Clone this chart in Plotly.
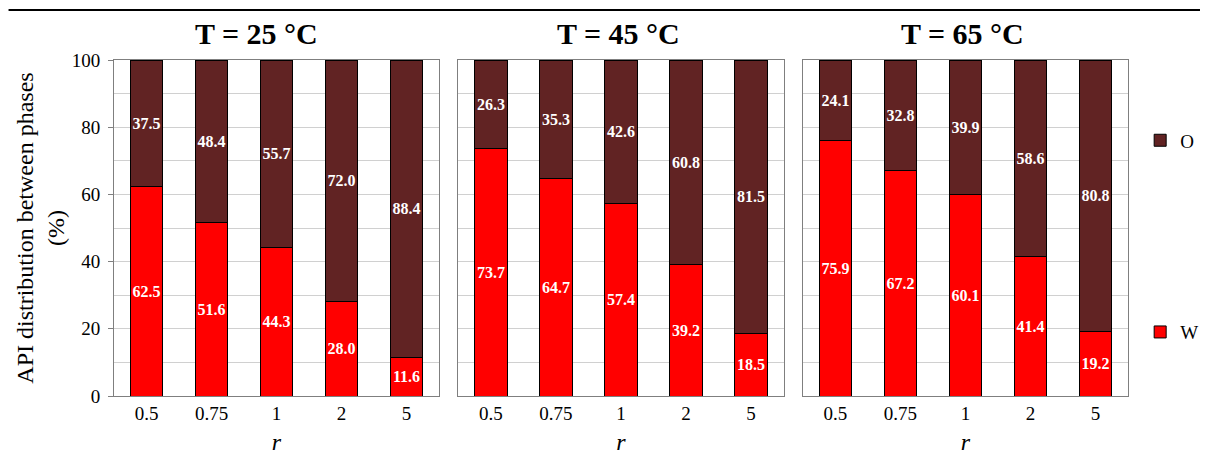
import plotly.graph_objects as go
from plotly.subplots import make_subplots

categories = ["0.5", "0.75", "1", "2", "5"]
temps = ["T = 25 °C", "T = 45 °C", "T = 65 °C"]
w_25 = [62.5, 51.6, 44.3, 28.0, 11.6]
o_25 = [37.5, 48.4, 55.7, 72.0, 88.4]
w_45 = [73.7, 64.7, 57.4, 39.2, 18.5]
o_45 = [26.3, 35.3, 42.6, 60.8, 81.5]
w_65 = [75.9, 67.2, 60.1, 41.4, 19.2]
o_65 = [24.1, 32.8, 39.9, 58.6, 80.8]
y_ticks = [0, 20, 40, 60, 80, 100]

W_COLOR = "#ff0000"
O_COLOR = "#612323"
FONT = "Liberation Serif"

fig = make_subplots(rows=1, cols=3, shared_yaxes=False, horizontal_spacing=0.0192)

series = [(w_25, o_25), (w_45, o_45), (w_65, o_65)]
for i, (w, o) in enumerate(series):
    col = i + 1
    for name, vals, color, rank in [("W", w, W_COLOR, 2), ("O", o, O_COLOR, 1)]:
        fig.add_trace(go.Bar(
            x=categories, y=vals, name=name, legendgroup=name, legendrank=rank,
            showlegend=(i == 0),
            marker=dict(color=color, line=dict(color="black", width=1)),
            texttemplate="%{y:.1f}", textposition="inside",
            insidetextanchor="middle", textangle=0,
            textfont=dict(family=FONT, size=16, color="white", weight="bold"),
        ), row=1, col=col)
    fig.update_xaxes(
        type="category", showline=True, mirror=True, linecolor="#7f7f7f", linewidth=1,
        tickfont=dict(family=FONT, size=19, color="black"),
        title=dict(text="<i>r</i>", font=dict(family=FONT, size=24, color="black"), standoff=15),
        row=1, col=col)
    fig.update_yaxes(
        range=[0, 100], tickvals=y_ticks, showticklabels=(i == 0),
        showline=True, mirror=True, linecolor="#7f7f7f", linewidth=1,
        showgrid=True, gridcolor="#d0d0d0", gridwidth=1,
        minor=dict(dtick=10, showgrid=True, gridcolor="#d0d0d0", gridwidth=1),
        ticks="outside" if i == 0 else "", ticklen=5, tickcolor="#7f7f7f",
        ticklabelstandoff=4 if i == 0 else 0,
        tickfont=dict(family=FONT, size=19, color="black"),
        zeroline=False,
        row=1, col=col)

fig.update_yaxes(
    title=dict(text="API distribution between phases<br>(%)",
               font=dict(family=FONT, size=24, color="black"), standoff=0),
    row=1, col=1)

# panel titles
for i, t in enumerate(temps):
    xref = "x domain" if i == 0 else f"x{i+1} domain"
    fig.add_annotation(text=f"<b>{t}</b>", xref=xref, yref="paper", x=0.5, y=1.0,
                       yanchor="bottom", yshift=8, xshift=(-20 if i == 0 else -3),
                       showarrow=False,
                       font=dict(family=FONT, size=30, color="black"))

# top rule
fig.add_shape(type="line", xref="paper", yref="paper",
              x0=-0.104, x1=1.071, y0=1.149, y1=1.149,
              line=dict(color="black", width=2))

fig.update_layout(
    width=1206, height=455,
    margin=dict(l=114, r=78, t=60, b=59, autoexpand=False),
    barmode="stack", bargap=0.5,
    plot_bgcolor="white", paper_bgcolor="white",
    font=dict(family=FONT, color="black"),
    uniformtext=dict(minsize=16, mode="show"),
    legend=dict(x=1.012, y=0.475, xanchor="left", yanchor="middle",
                traceorder="grouped", tracegroupgap=164,
                font=dict(family=FONT, size=19, color="black"),
                itemwidth=30),
    showlegend=True,
)

fig.write_html("out.html")
